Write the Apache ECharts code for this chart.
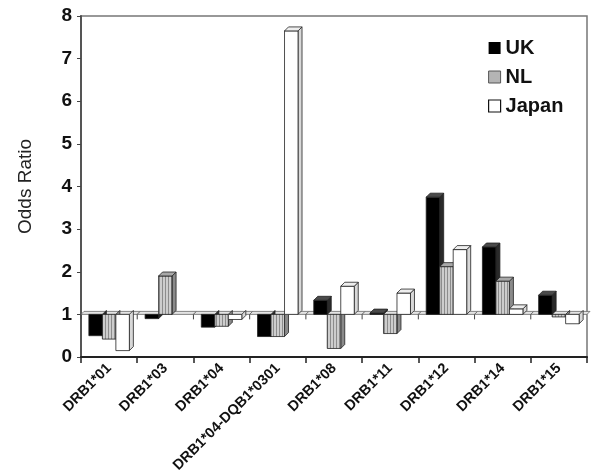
<!DOCTYPE html>
<html>
<head>
<meta charset="utf-8">
<script src="https://cdn.jsdelivr.net/npm/echarts@6/dist/echarts.min.js"></script>
<style>
  html, body { margin: 0; padding: 0; background: #fff; }
  #chart { width: 592px; height: 472px; }
</style>
</head>
<body>
<div id="chart"></div>
<script>
// Odds ratios per allele (bars hang from / rise above OR = 1)
const categories = ['DRB1*01', 'DRB1*03', 'DRB1*04', 'DRB1*04-DQB1*0301', 'DRB1*08', 'DRB1*11', 'DRB1*12', 'DRB1*14', 'DRB1*15'];
const ukValues = [0.5, 0.9, 0.7, 0.48, 1.33, 1.03, 3.75, 2.58, 1.45];
const nlValues = [0.42, 1.9, 0.72, 0.48, 0.2, 0.55, 2.12, 1.78, 0.94];
const japanValues = [0.15, null, 0.88, 7.65, 1.66, 1.5, 2.52, 1.13, 0.78];
const yTicks = [0, 1, 2, 3, 4, 5, 6, 7, 8];

const FONT = '"Liberation Sans", Arial, sans-serif';
const BAR_W = 13.5;
const DEPTH = 4;
const BASE = 1;

// striped fill for NL bars
const stripe = document.createElement('canvas');
stripe.width = 3; stripe.height = 3;
const sctx = stripe.getContext('2d');
sctx.fillStyle = '#cdcdcd'; sctx.fillRect(0, 0, 3, 3);
sctx.fillStyle = '#8c8c8c'; sctx.fillRect(0, 0, 1, 3);

const looks = [
  { front: '#000', side: '#2a2a2a', top: '#4a4a4a' },
  { front: { image: stripe, repeat: 'repeat' }, side: '#8a8a8a', top: '#a8a8a8' },
  { front: '#fff', side: '#d8d8d8', top: '#eeeeee' }
];

function barRenderer(k) {
  return function (params, api) {
    const v = api.value(1);
    if (v == null || isNaN(v)) return;
    const base = api.coord([api.value(0), BASE]);
    const end = api.coord([api.value(0), v]);
    const x = base[0] + (k - 1.5) * BAR_W;
    const yTop = Math.min(base[1], end[1]);
    const yBot = Math.max(base[1], end[1]);
    const w = BAR_W, d = DEPTH;
    const look = looks[k];
    const stroke = { stroke: '#222', lineWidth: 0.8 };
    const kids = [
      { type: 'polygon', shape: { points: [[x + w, yTop], [x + w + d, yTop - d], [x + w + d, yBot - d], [x + w, yBot]] },
        style: Object.assign({ fill: look.side }, stroke) },
      { type: 'rect', shape: { x: x, y: yTop, width: w, height: yBot - yTop },
        style: Object.assign({ fill: look.front }, stroke) }
    ];
    if (v > BASE) {
      kids.push({ type: 'polygon', shape: { points: [[x, yTop], [x + d, yTop - d], [x + w + d, yTop - d], [x + w, yTop]] },
        style: Object.assign({ fill: look.top }, stroke) });
    }
    return { type: 'group', children: kids };
  };
}

// the 3-D "floor" at OR = 1 with its small category ticks
function floorRenderer(params, api) {
  const c = api.coord([api.value(0), BASE]);
  const band = api.size([1, 0])[0];
  const x0 = c[0] - band / 2, x1 = c[0] + band / 2, y = c[1], d = 3;
  return {
    type: 'group',
    children: [
      { type: 'polygon', shape: { points: [[x0, y], [x0 + d, y - d], [x1 + d, y - d], [x1, y]] },
        style: { fill: '#e4e4e4', stroke: '#666', lineWidth: 0.8 } },
      { type: 'line', shape: { x1: x0, y1: y, x2: x0, y2: y + 5 }, style: { stroke: '#444', lineWidth: 1 } }
    ]
  };
}

const chart = echarts.init(document.getElementById('chart'), null, { renderer: 'canvas' });

chart.setOption({
  animation: false,
  backgroundColor: '#fff',
  grid: {
    left: 81, right: 5, top: 16, bottom: 115,
    containLabel: false, outerBoundsMode: 'none',
    show: true, borderColor: '#777', borderWidth: 1.5
  },
  legend: {
    orient: 'vertical',
    left: 483,
    top: 33,
    itemWidth: 12,
    itemHeight: 12,
    itemGap: 9,
    selectedMode: false,
    textStyle: { fontFamily: FONT, fontSize: 20, fontWeight: 'bold', color: '#111' },
    data: [
      { name: 'UK', icon: 'rect', itemStyle: { color: '#000' } },
      { name: 'NL', icon: 'rect', itemStyle: { color: '#b4b4b4', borderColor: '#555', borderWidth: 1 } },
      { name: 'Japan', icon: 'rect', itemStyle: { color: '#fff', borderColor: '#111', borderWidth: 1.2 } }
    ]
  },
  xAxis: {
    type: 'category',
    data: categories,
    boundaryGap: true,
    axisLine: { onZero: false, lineStyle: { color: '#222', width: 2 } },
    axisTick: { show: true, length: 6, lineStyle: { color: '#222', width: 1.5 } },
    axisLabel: { interval: 0, rotate: 45, margin: 9, fontFamily: FONT, fontSize: 14.5, fontWeight: 'bold', color: '#111' },
    splitLine: { show: false }
  },
  yAxis: {
    type: 'value',
    min: yTicks[0],
    max: yTicks[yTicks.length - 1],
    interval: 1,
    name: 'Odds Ratio',
    nameLocation: 'middle',
    nameGap: 46,
    nameTextStyle: { fontFamily: FONT, fontSize: 19, color: '#222' },
    axisLine: { show: true, lineStyle: { color: '#555', width: 2 } },
    axisTick: { show: true, length: 4, lineStyle: { color: '#444' } },
    axisLabel: { margin: 9, fontFamily: FONT, fontSize: 19, fontWeight: 'bold', color: '#111' },
    splitLine: { show: false }
  },
  series: [
    { type: 'custom', name: 'floor', renderItem: floorRenderer, data: categories.map((c, i) => [i]), silent: true, z: 1 },
    { type: 'custom', name: 'UK', renderItem: barRenderer(0), itemStyle: { color: '#000' },
      data: ukValues.map((v, i) => [i, v]), z: 2 },
    { type: 'custom', name: 'NL', renderItem: barRenderer(1), itemStyle: { color: '#b4b4b4' },
      data: nlValues.map((v, i) => [i, v]), z: 3 },
    { type: 'custom', name: 'Japan', renderItem: barRenderer(2), itemStyle: { color: '#fff' },
      data: japanValues.map((v, i) => [i, v]), z: 4 }
  ]
});
</script>
</body>
</html>
